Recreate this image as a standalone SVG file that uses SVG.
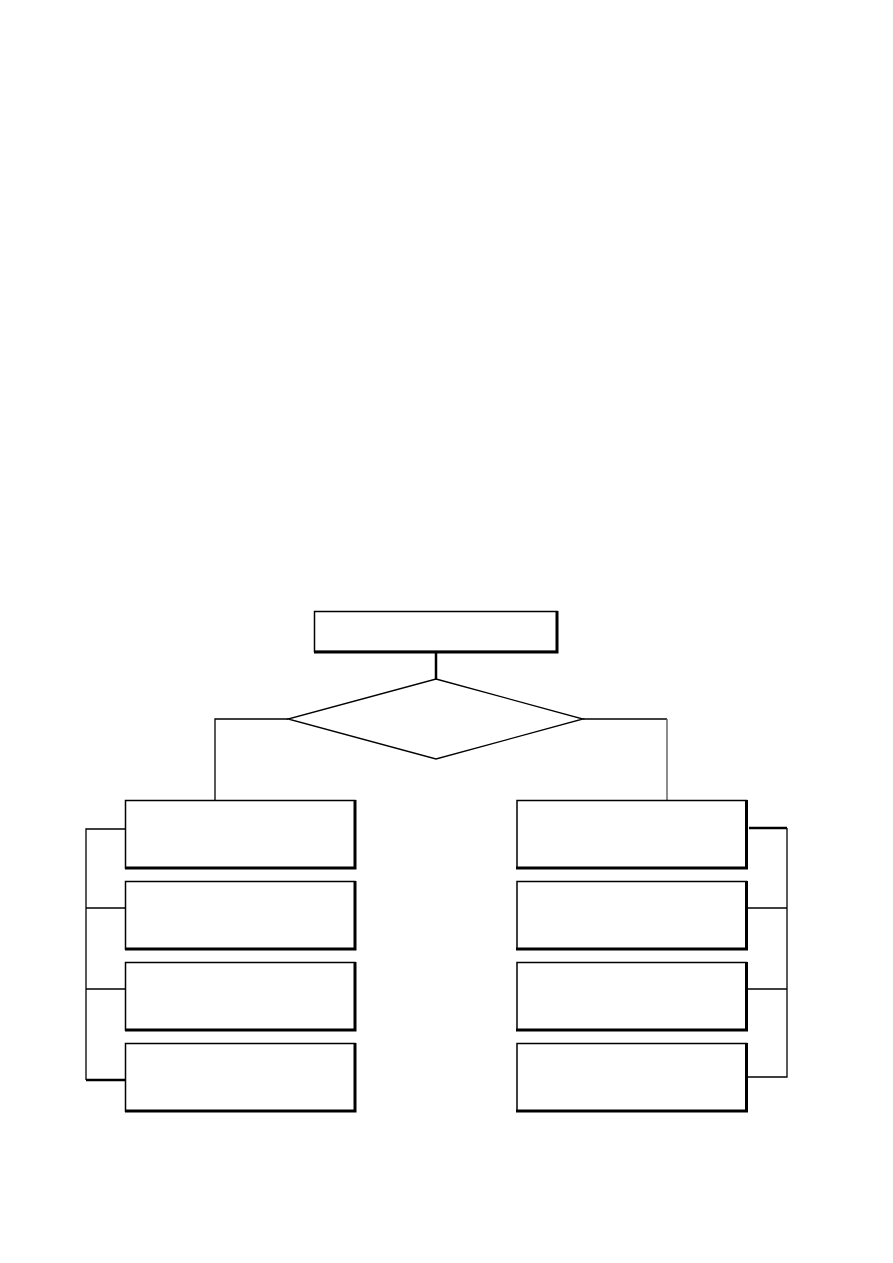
<svg xmlns="http://www.w3.org/2000/svg" width="893" height="1263" viewBox="0 0 893 1263">
<style>
.box{fill:#fff;stroke:#000;stroke-width:1.5}
.sh{fill:none;stroke:#000;stroke-width:3}
.ln{fill:none;stroke:#000;stroke-width:1.3}
.gr{fill:none;stroke:#666;stroke-width:1.5}
</style>
<rect width="893" height="1263" fill="#fff"/>
<g id="connectors">
<line class="ln" x1="436" y1="652" x2="436" y2="679" style="stroke-width:2.5"/>
<polyline class="ln" points="288,719 215,719 215,800"/>
<polyline class="ln" points="583,719 667,719"/>
<line class="gr" x1="667" y1="719" x2="667" y2="800"/>
<polyline class="ln" points="126,829 86,829 86,1080"/>
<line class="ln" x1="86" y1="908" x2="125" y2="908"/>
<line class="ln" x1="86" y1="989" x2="125" y2="989"/>
<line class="ln" x1="86" y1="1080" x2="126" y2="1080" style="stroke-width:2.5"/>
<line class="ln" x1="749" y1="828" x2="787" y2="828" style="stroke-width:2.5"/>
<polyline class="ln" points="787,828 787,1077 748,1077"/>
<line class="ln" x1="747" y1="908" x2="787" y2="908"/>
<line class="ln" x1="747" y1="989" x2="787" y2="989"/>
</g>
<g id="top"><rect class="box" x="314.5" y="611.5" width="242.5" height="40"/><path class="sh" d="M557,611 V652 H314"/></g>
<g id="decision"><polygon class="ln" points="436,679 583,719 436,759 288,719" style="fill:#fff"/></g>
<g id="L1"><rect class="box" x="125.5" y="800.5" width="229.5" height="67.5"/><path class="sh" d="M355,800 V868 H125"/></g>
<g id="L2"><rect class="box" x="125.5" y="881.5" width="229.5" height="67.5"/><path class="sh" d="M355,881 V949 H125"/></g>
<g id="L3"><rect class="box" x="125.5" y="962.5" width="229.5" height="67.5"/><path class="sh" d="M355,962 V1030 H125"/></g>
<g id="L4"><rect class="box" x="125.5" y="1043.5" width="229.5" height="67.5"/><path class="sh" d="M355,1043 V1111 H125"/></g>
<g id="R1"><rect class="box" x="517" y="800.5" width="229.5" height="67.5"/><path class="sh" d="M746.5,800 V868 H516"/></g>
<g id="R2"><rect class="box" x="517" y="881.5" width="229.5" height="67.5"/><path class="sh" d="M746.5,881 V949 H516"/></g>
<g id="R3"><rect class="box" x="517" y="962.5" width="229.5" height="67.5"/><path class="sh" d="M746.5,962 V1030 H516"/></g>
<g id="R4"><rect class="box" x="517" y="1043.5" width="229.5" height="67.5"/><path class="sh" d="M746.5,1043 V1111 H516"/></g>
</svg>
